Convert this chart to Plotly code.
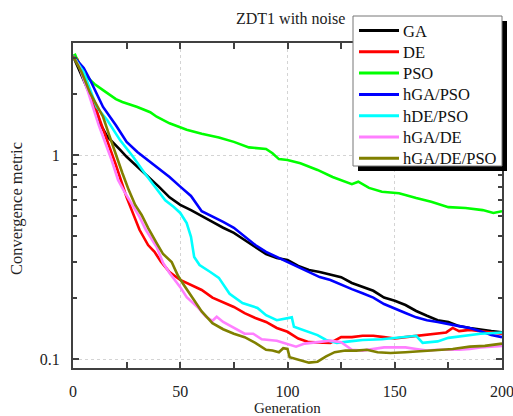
import plotly.graph_objects as go

# ---- data ----
gen_ga = [0, 3, 6, 10, 13, 16, 19, 22, 25, 30, 35, 40, 45, 50, 55, 60, 65, 70, 75, 80, 85, 90, 95, 100,
          105, 110, 115, 120, 125, 130, 135, 140, 145, 150, 155, 160, 165, 170, 175, 180, 185, 190, 195, 200]
val_ga = [3.06, 2.61, 2.2, 1.76, 1.40, 1.23, 1.145, 1.06, 0.98, 0.875, 0.79, 0.70, 0.62, 0.57, 0.537, 0.50,
          0.47, 0.44, 0.415, 0.383, 0.354, 0.327, 0.313, 0.306, 0.286, 0.273, 0.267, 0.26, 0.252, 0.236,
          0.226, 0.216, 0.20, 0.193, 0.184, 0.172, 0.163, 0.155, 0.152, 0.145, 0.142, 0.139, 0.137, 0.135]

gen_de = [0, 2, 5, 10, 15, 20, 25, 28, 31, 35, 38, 41, 45, 50, 55, 60, 65, 70, 75, 80, 85, 90, 95, 100,
          105, 110, 115, 120, 125, 130, 135, 140, 145, 150, 155, 160, 165, 170, 174, 177, 180, 185, 190, 195, 200]
val_de = [3.06, 2.95, 2.47, 1.76, 1.25, 0.893, 0.62, 0.52, 0.43, 0.362, 0.335, 0.30, 0.267, 0.244, 0.231,
          0.218, 0.20, 0.19, 0.18, 0.168, 0.159, 0.152, 0.142, 0.136, 0.126, 0.121, 0.12, 0.12, 0.128,
          0.128, 0.13, 0.13, 0.128, 0.126, 0.128, 0.13, 0.131, 0.133, 0.135, 0.142, 0.137, 0.139, 0.137,
          0.134, 0.133]

gen_pso = [0, 1, 2, 4, 6, 8, 10, 14, 20, 23, 30, 36, 39, 45, 53, 60, 68, 75, 82, 90, 93, 96, 100, 106,
           114, 121, 130, 133, 138, 144, 152, 160, 167, 175, 183, 191, 196, 200]
val_pso = [3.06, 3.1, 2.92, 2.67, 2.47, 2.33, 2.23, 2.08, 1.88, 1.82, 1.72, 1.62, 1.54, 1.43, 1.33, 1.27,
           1.22, 1.16, 1.09, 1.07, 1.02, 0.955, 0.945, 0.91, 0.845, 0.78, 0.72, 0.74, 0.69, 0.66, 0.65,
           0.615, 0.59, 0.555, 0.55, 0.537, 0.52, 0.53]

gen_gapso = [0, 5, 8, 14, 20, 25, 30, 35, 40, 45, 50, 55, 60, 65, 70, 75, 80, 85, 90, 95, 100, 105, 110,
             115, 120, 125, 130, 135, 140, 145, 150, 155, 160, 165, 170, 175, 180, 185, 190, 195, 200]
val_gapso = [3.06, 2.67, 2.33, 1.72, 1.40, 1.16, 1.035, 0.945, 0.86, 0.78, 0.70, 0.63, 0.53, 0.50, 0.47,
             0.44, 0.40, 0.362, 0.335, 0.316, 0.30, 0.283, 0.267, 0.252, 0.244, 0.231, 0.22, 0.21, 0.20,
             0.186, 0.176, 0.168, 0.16, 0.155, 0.152, 0.148, 0.145, 0.142, 0.137, 0.131, 0.128]

gen_depso = [0, 5, 11, 16, 22, 28, 33, 38, 43, 47, 50, 53, 55, 56.5, 59, 64, 68, 73, 79, 86, 90, 95, 100,
             102, 103, 107, 114, 118, 123, 129, 135, 144, 152, 160, 163, 170, 175, 183, 190, 200]
val_depso = [3.06, 2.55, 1.72, 1.48, 1.18, 0.98, 0.825, 0.705, 0.60, 0.556, 0.52, 0.464, 0.397, 0.316,
             0.289, 0.267, 0.25, 0.209, 0.188, 0.178, 0.164, 0.155, 0.159, 0.16, 0.144, 0.139, 0.131,
             0.124, 0.12, 0.122, 0.124, 0.125, 0.128, 0.13, 0.12, 0.122, 0.127, 0.13, 0.133, 0.135]

gen_gade = [0, 3, 7, 12, 18, 21, 24, 28, 31, 34, 39, 42, 45, 50, 53, 58, 62, 65, 67, 70, 75, 80, 84, 88,
            95, 100, 104, 108, 113, 120, 125, 130, 135, 140, 145, 150, 155, 160, 165, 170, 175, 180, 185,
            190, 195, 200]
val_gade = [3.06, 2.7, 2.04, 1.40, 0.945, 0.754, 0.66, 0.556, 0.497, 0.429, 0.354, 0.296, 0.264, 0.225,
            0.201, 0.18, 0.161, 0.154, 0.161, 0.152, 0.142, 0.133, 0.133, 0.125, 0.123, 0.119, 0.115,
            0.119, 0.121, 0.123, 0.121, 0.111, 0.11, 0.112, 0.114, 0.114, 0.114, 0.112, 0.11, 0.111,
            0.111, 0.111, 0.112, 0.114, 0.115, 0.116]

gen_gadepso = [0, 4, 8, 14, 17, 20, 23, 26, 29, 32, 35, 39, 42, 46, 49, 52, 56, 60, 65, 70, 75, 80, 85,
               90, 93, 96, 98, 100, 101, 105, 110, 114, 118, 122, 127, 132, 137, 142, 148, 155, 162, 170,
               177, 185, 192, 200]
val_gadepso = [3.06, 2.55, 2.01, 1.54, 1.24, 1.0, 0.816, 0.673, 0.569, 0.508, 0.439, 0.37, 0.327, 0.299,
               0.255, 0.228, 0.197, 0.171, 0.15, 0.14, 0.133, 0.128, 0.12, 0.111, 0.11, 0.108, 0.113,
               0.112, 0.102, 0.099, 0.096, 0.097, 0.103, 0.108, 0.11, 0.11, 0.111, 0.108, 0.107, 0.108,
               0.109, 0.111, 0.112, 0.115, 0.116, 0.119]

names = ["GA", "DE", "PSO", "hGA/PSO", "hDE/PSO", "hGA/DE", "hGA/DE/PSO"]
colors = ["#000000", "#ff0000", "#00ff00", "#0000ff", "#00ffff", "#ff7fff", "#808000"]
series = [(gen_ga, val_ga), (gen_de, val_de), (gen_pso, val_pso), (gen_gapso, val_gapso),
          (gen_depso, val_depso), (gen_gade, val_gade), (gen_gadepso, val_gadepso)]

x_major = [0, 50, 100, 150, 200]
x_major_text = ["0", "50", "100", "150", "200"]
x_minor = [25, 75, 125, 175]
y_major = [0.1, 1]
y_major_text = ["0.1", "1"]
y_minor = [0.2, 0.3, 0.4, 0.5, 0.6, 0.7, 0.8, 0.9, 2, 3]

FONT = "Liberation Serif"
W, H = 513, 416
ML, MR, MT, MB = 73, 11, 43, 48
PW, PH = W - ML - MR, H - MT - MB


def px(xp):
    return (xp - ML) / PW


def py(yp):
    return (H - MB - yp) / PH


fig = go.Figure()
for (g, v), n, c in zip(series, names, colors):
    fig.add_trace(go.Scatter(x=g, y=v, mode="lines", name=n,
                             line=dict(color=c, width=2.6)))

# ---- legend box (drawn as shapes + text) ----
shapes = [
    dict(type="rect", xref="paper", yref="paper", x0=px(358), x1=px(507), y0=py(171), y1=py(21),
         fillcolor="black", line=dict(width=0), layer="above"),
    dict(type="rect", xref="paper", yref="paper", x0=px(353), x1=px(502), y0=py(166), y1=py(16),
         fillcolor="white", line=dict(color="#777", width=1), layer="above"),
]
annotations = []
row0, row_step = 30.5, 21.3
for i, (n, c) in enumerate(zip(names, colors)):
    yy = row0 + i * row_step
    shapes.append(dict(type="line", xref="paper", yref="paper", x0=px(359), x1=px(399),
                       y0=py(yy), y1=py(yy), line=dict(color=c, width=3), layer="above"))
    annotations.append(dict(text=n, xref="paper", yref="paper", x=px(401), y=py(yy + 0.5),
                            showarrow=False, xanchor="left", yanchor="middle",
                            font=dict(family=FONT, size=16.5, color="#111")))

annotations += [
    dict(text="ZDT1 with noise", xref="paper", yref="paper", x=px(290), y=py(18),
         showarrow=False, xanchor="center", yanchor="middle", font=dict(family=FONT, size=16, color="#222")),
    dict(text="Generation", xref="paper", yref="paper", x=0.5, y=py(408),
         showarrow=False, xanchor="center", yanchor="middle", font=dict(family=FONT, size=15, color="#222")),
    dict(text="Convergence metric", xref="paper", yref="paper", x=px(16), y=py(209),
         showarrow=False, xanchor="center", yanchor="middle", textangle=-90,
         font=dict(family=FONT, size=16.5, color="#222")),
]

YR = [-1.044, 0.549]
axcol = "#404040"
common = dict(ticks="inside", ticklen=6, tickwidth=1.5, tickcolor=axcol,
              showline=True, linecolor=axcol, linewidth=2, mirror="allticks",
              showgrid=True, gridcolor="#d4d4d4", griddash="dot", gridwidth=1,
              zeroline=False, automargin=False, ticklabeloverflow="allow",
              ticklabelstandoff=8, tickfont=dict(family=FONT, size=16, color="#222"))
fig.update_layout(
    width=W, height=H,
    margin=dict(l=ML, r=MR, t=MT, b=MB),
    paper_bgcolor="white", plot_bgcolor="white",
    font=dict(family=FONT, color="#222", size=16),
    showlegend=False,
    xaxis=dict(range=[0, 200], tickmode="array", tickvals=x_major, ticktext=x_major_text,
               minor=dict(tickmode="array", tickvals=x_minor, ticks="inside", ticklen=6,
                          tickwidth=1.5, tickcolor=axcol, showgrid=False), **common),
    yaxis=dict(type="log", range=YR, tickmode="array", tickvals=y_major, ticktext=y_major_text,
               minor=dict(tickmode="array", tickvals=y_minor, ticks="inside", ticklen=4,
                          tickwidth=1.5, tickcolor=axcol, showgrid=False), **common),
    shapes=shapes,
    annotations=annotations,
)
fig.write_html("out.html", config={"displayModeBar": False},
               post_script="document.body.style.margin='0';")
